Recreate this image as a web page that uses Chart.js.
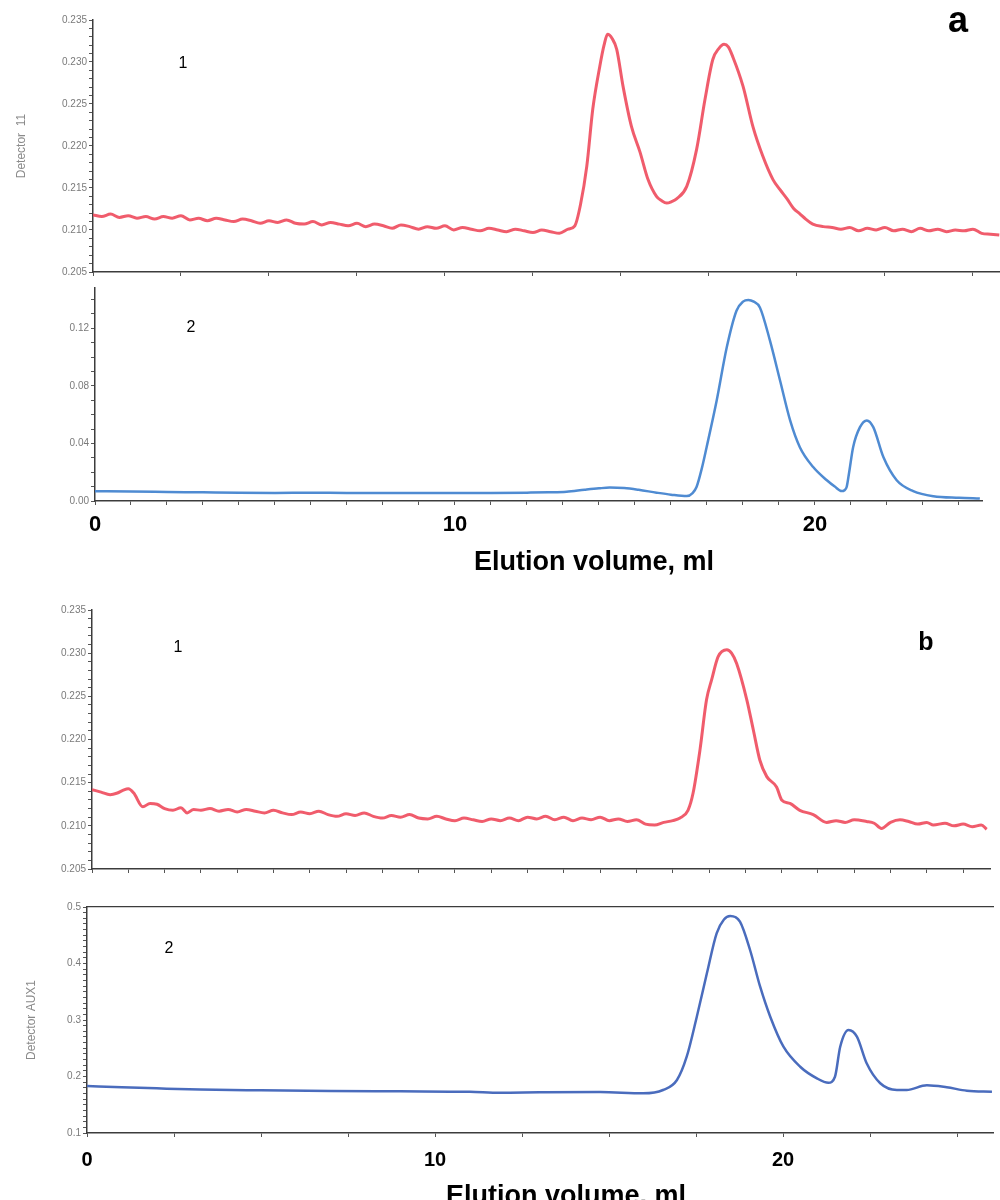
<!DOCTYPE html>
<html>
<head>
<meta charset="utf-8">
<script src="https://cdn.jsdelivr.net/npm/chart.js@4.4.1/dist/chart.umd.min.js"></script>
<style>
    html, body { margin: 0; padding: 0; background: #fff; overflow: hidden; }
    body { width: 1000px; height: 1200px; position: relative; }
    .panel { position: absolute; left: 0; width: 1000px; }
    .panel canvas { display: block; }
</style>
</head>
<body>
<div class="panel" id="panelA1" style="top:0;height:280px"><canvas id="chartA1"></canvas></div>
<div class="panel" id="panelA2" style="top:280px;height:300px"><canvas id="chartA2"></canvas></div>
<div class="panel" id="panelB1" style="top:580px;height:310px"><canvas id="chartB1"></canvas></div>
<div class="panel" id="panelB2" style="top:890px;height:325px"><canvas id="chartB2"></canvas></div>
<script>
// panel a, trace 1 (refractive index, red)
const volumeA1 = [0, 0.25, 0.5, 0.75, 1, 1.25, 1.5, 1.75, 2, 2.25, 2.5, 2.75, 3, 3.25, 3.5, 3.75, 4, 4.25, 4.5, 4.75,
    5, 5.25, 5.5, 5.75, 6, 6.25, 6.5, 6.75, 7, 7.25, 7.5, 7.75, 8, 8.25, 8.5, 8.75, 9, 9.25, 9.5, 9.75,
    10, 10.25, 10.5, 10.75, 11, 11.25, 11.5, 11.75, 12, 12.25, 12.5, 12.75, 13, 13.25, 13.5,
    13.69, 13.85, 14.03, 14.2, 14.4, 14.52, 14.62, 14.75, 14.88, 15.06, 15.3, 15.54, 15.77, 16.01, 16.15, 16.3,
    16.45, 16.58, 16.87, 17.15, 17.39, 17.61, 17.78, 17.93, 18.05, 18.18, 18.47, 18.75, 19.03, 19.32, 19.52,
    19.72, 19.9, 20.09, 20.25, 20.45, 20.75, 21, 21.25, 21.5, 21.75, 22, 22.25, 22.5, 22.75, 23, 23.25, 23.5,
    23.75, 24, 24.25, 24.5, 24.75, 25, 25.25, 25.5, 25.75];
const signalA1 = [0.2118, 0.2116, 0.2119, 0.2115, 0.2117, 0.2114, 0.2116, 0.2113, 0.2116, 0.2114, 0.2117, 0.2112, 0.2114, 0.2111, 0.2114, 0.2112, 0.2110, 0.2113, 0.2111, 0.2108,
    0.2111, 0.2109, 0.2112, 0.2108, 0.2107, 0.2110, 0.2106, 0.2109, 0.2107, 0.2105, 0.2108, 0.2104, 0.2107, 0.2105, 0.2102, 0.2106, 0.2104, 0.2101, 0.2104, 0.2102,
    0.2105, 0.2100, 0.2103, 0.2101, 0.2099, 0.2102, 0.2100, 0.2098, 0.2101, 0.2099, 0.2097, 0.2100, 0.2098, 0.2096, 0.2101,
    0.2105, 0.2130, 0.2176, 0.2244, 0.2295, 0.2320, 0.2333, 0.2328, 0.2315, 0.2271, 0.2223, 0.2193, 0.2160, 0.2140, 0.2135, 0.2132,
    0.2134, 0.2137, 0.2152, 0.2196, 0.2256, 0.2303, 0.2316, 0.2321, 0.2318, 0.2306, 0.2271, 0.2223, 0.2188, 0.2160, 0.2148,
    0.2137, 0.2126, 0.2119, 0.2113, 0.2107, 0.2104, 0.2103, 0.2101, 0.2103, 0.2099, 0.2102, 0.2100, 0.2103, 0.2099, 0.2101, 0.2098, 0.2102,
    0.2099, 0.2101, 0.2098, 0.2100, 0.2099, 0.2101, 0.2096, 0.2095, 0.2094];

// panel a, trace 2 (UV, blue)
const volumeA2 = [0, 1, 2, 3, 4, 5, 6, 7, 8, 9, 10, 11, 12, 12.6, 13.1, 13.6, 14, 14.3, 14.7, 15.1, 15.6, 16, 16.44,
    16.6, 16.71, 16.85, 16.99, 17.27, 17.55, 17.82, 18, 18.15, 18.3, 18.47, 18.75, 19.03, 19.31, 19.58, 19.95,
    20.33, 20.55, 20.74, 20.82, 20.88, 20.95, 21.06, 21.25, 21.44, 21.62, 21.9, 22.27, 22.73, 23.29, 24, 24.58];
const signalA2 = [0.0068, 0.0066, 0.0063, 0.0060, 0.0057, 0.0056, 0.0057, 0.0056, 0.0056, 0.0055, 0.0055, 0.0056, 0.0058, 0.0060, 0.0064, 0.0078, 0.0088, 0.0093, 0.0090, 0.0078, 0.0058, 0.0044, 0.0034,
    0.0055, 0.0097, 0.0220, 0.0374, 0.0698, 0.1068, 0.1322, 0.1385, 0.1397, 0.1385, 0.1345, 0.1114, 0.0837, 0.0560, 0.0374, 0.0236,
    0.0144, 0.0100, 0.0069, 0.0075, 0.0097, 0.0200, 0.0374, 0.0513, 0.0560, 0.0513, 0.0305, 0.0144, 0.0069, 0.0033, 0.0022, 0.0017];

// panel b, trace 1 (red)
const volumeB1 = [0, 0.25, 0.5, 0.7, 0.85, 1, 1.15, 1.4, 1.6, 1.79, 2, 2.23, 2.45, 2.62, 2.8, 3, 3.25, 3.5, 3.75, 4,
    4.25, 4.5, 4.75, 5, 5.25, 5.5, 5.75, 6, 6.25, 6.5, 6.75, 7, 7.25, 7.5, 7.75, 8, 8.25, 8.5, 8.75, 9,
    9.25, 9.5, 9.75, 10, 10.25, 10.5, 10.75, 11, 11.25, 11.5, 11.75, 12, 12.25, 12.5, 12.75, 13, 13.25, 13.5,
    13.75, 14, 14.25, 14.5, 14.75, 15, 15.25, 15.5, 15.75, 16, 16.2, 16.42, 16.56, 16.75, 16.93, 17.07, 17.25,
    17.49, 17.62, 17.76, 18.04, 18.22, 18.4, 18.59, 18.86, 19, 19.23, 19.5, 19.87, 20.24, 20.5, 20.75, 21,
    21.34, 21.55, 21.75, 22, 22.26, 22.5, 22.75, 23, 23.18, 23.5, 23.75, 24, 24.25, 24.5, 24.65];
const signalB1 = [0.2142, 0.2139, 0.2136, 0.2138, 0.2141, 0.2143, 0.2138, 0.2122, 0.2126, 0.2125, 0.2120, 0.2118, 0.2121, 0.2115, 0.2119, 0.2118, 0.2120, 0.2117, 0.2119, 0.2116,
    0.2119, 0.2117, 0.2115, 0.2118, 0.2115, 0.2113, 0.2116, 0.2114, 0.2117, 0.2113, 0.2111, 0.2114, 0.2112, 0.2115, 0.2111, 0.2109, 0.2112, 0.2110, 0.2113, 0.2109,
    0.2108, 0.2111, 0.2108, 0.2106, 0.2109, 0.2107, 0.2105, 0.2108, 0.2106, 0.2109, 0.2106, 0.2110, 0.2108, 0.2111, 0.2107, 0.2110, 0.2106, 0.2109,
    0.2107, 0.2110, 0.2106, 0.2108, 0.2105, 0.2107, 0.2102, 0.2101, 0.2104, 0.2106, 0.2109, 0.2118, 0.2138, 0.2188, 0.2246, 0.2269, 0.2296,
    0.2304, 0.2300, 0.2288, 0.2246, 0.2211, 0.2176, 0.2157, 0.2145, 0.2130, 0.2126, 0.2118, 0.2113, 0.2104, 0.2106, 0.2104, 0.2107,
    0.2105, 0.2103, 0.2097, 0.2104, 0.2107, 0.2105, 0.2102, 0.2104, 0.2101, 0.2103, 0.2100, 0.2102, 0.2099, 0.2101, 0.2096];

// panel b, trace 2 (blue)
const volumeB2 = [0, 1, 2, 3.25, 5, 7, 9, 11, 11.87, 13, 14.74, 15.98, 16.55, 16.95, 17.23, 17.52, 17.81, 18.09, 18.3,
    18.48, 18.76, 19.05, 19.34, 19.63, 20.01, 20.49, 20.97, 21.3, 21.49, 21.64, 21.88, 22.12, 22.4, 22.79,
    23.27, 23.55, 24.13, 24.7, 25.28, 26];
const signalB2 = [0.1832, 0.1810, 0.1790, 0.1768, 0.1755, 0.1745, 0.1738, 0.1730, 0.1713, 0.1720, 0.1726, 0.1703, 0.1761, 0.1938, 0.2350, 0.3058, 0.3827, 0.4535, 0.4780,
    0.4841, 0.4740, 0.4239, 0.3589, 0.3058, 0.2527, 0.2173, 0.1968, 0.1890, 0.1996, 0.2527, 0.2823, 0.2705, 0.2233, 0.1880,
    0.1761, 0.1761, 0.1844, 0.1809, 0.1749, 0.1731];

const xLabelsShown = [0, 10, 20];

(function () {
    const palette = {
        red: 'rgba(238, 74, 92, 0.9)',
        blueA: '#4f8bd2',
        blueB: '#4a6cbd',
        axis: '#3c3c3c',
        tick: '#7a7a7a',
    };
    const sans = "'Liberation Sans', Arial, sans-serif";
    const axisTitle = 'Elution volume, ml';

    // free text in the panels: curve numbers, panel letters, x axis title
    const panelText = {
        id: 'panelText',
        afterDraw(chart, args, opts) {
            const ctx = chart.ctx;
            (opts.items || []).forEach(function (item) {
                ctx.save();
                ctx.font = item.font;
                ctx.fillStyle = '#000';
                ctx.textAlign = 'center';
                ctx.textBaseline = 'alphabetic';
                ctx.fillText(item.text, item.x, item.y);
                ctx.restore();
            });
        },
    };

    function toPoints(xs, ys) {
        return xs.map(function (x, i) { return { x: x, y: ys[i] }; });
    }

    function yAxis(o) {
        return {
            type: 'linear',
            position: 'left',
            min: o.min,
            max: o.max,
            afterFit: function (scale) { scale.width = o.width; },
            border: { color: palette.axis, width: 1.5 },
            grid: { drawOnChartArea: false, tickLength: 4, tickColor: '#555' },
            ticks: {
                stepSize: o.step,
                autoSkip: false,
                includeBounds: false,
                padding: 2,
                color: palette.tick,
                font: { family: sans, size: 10 },
                callback: o.label,
            },
            title: o.title ? {
                display: true,
                text: o.title,
                color: '#8a8a8a',
                font: { family: sans, size: 12 },
                padding: { top: o.titlePad, bottom: 0 },
            } : { display: false },
        };
    }

    function xAxis(o) {
        return {
            type: 'linear',
            position: 'bottom',
            min: 0,
            max: o.max,
            afterFit: function (scale) { scale.height = o.height; },
            border: { color: palette.axis, width: 1.5 },
            grid: { drawOnChartArea: false, tickLength: 4, tickColor: '#555' },
            ticks: {
                stepSize: o.step,
                autoSkip: false,
                includeBounds: false,
                maxRotation: 0,
                padding: o.labelPad || 0,
                color: '#000',
                font: { family: sans, size: o.labelSize || 10, weight: 'bold' },
                callback: function (v) {
                    return o.labels && xLabelsShown.indexOf(v) !== -1 ? String(v) : '';
                },
            },
        };
    }

    function buildPanel(id, o) {
        const scales = { x: xAxis(o.x), y: yAxis(o.y) };
        if (o.frameTop) {
            scales.xTop = {
                type: 'linear',
                position: 'top',
                min: 0,
                max: 1,
                afterFit: function (scale) { scale.height = 0; },
                border: { color: palette.axis, width: 1.2 },
                grid: { display: false, drawTicks: false },
                ticks: { display: false },
            };
        }
        return new Chart(document.getElementById(id), {
            type: 'line',
            data: {
                datasets: [{
                    data: toPoints(o.xs, o.ys),
                    borderColor: o.color,
                    borderWidth: o.lineWidth,
                    pointRadius: 0,
                    cubicInterpolationMode: 'monotone',
                    fill: false,
                }],
            },
            options: {
                responsive: true,
                maintainAspectRatio: false,
                animation: false,
                layout: { padding: o.padding },
                plugins: {
                    legend: { display: false },
                    tooltip: { enabled: false },
                    panelText: { items: o.texts },
                },
                scales: scales,
            },
            plugins: [panelText],
        });
    }

    buildPanel('chartA1', {
        xs: volumeA1, ys: signalA1, color: palette.red, lineWidth: 3,
        padding: { top: 20, right: 0, left: 0, bottom: 0 },
        x: { max: 25.77, step: 2.5, height: 7 },
        y: {
            min: 0.205, max: 0.235, step: 0.001, width: 93, title: 'Detector  11', titlePad: 14,
            label: function (v) { return Math.round(v * 1000) % 5 === 0 ? v.toFixed(3) : ''; },
        },
        texts: [
            { text: '1', x: 183, y: 68, font: '16px ' + sans },
            { text: 'a', x: 958, y: 32, font: 'bold 36px ' + sans },
        ],
    });

    buildPanel('chartA2', {
        xs: volumeA2, ys: signalA2, color: palette.blueA, lineWidth: 2.5,
        padding: { top: 7, right: 18, left: 0, bottom: 0 },
        x: { max: 24.64, step: 1, height: 79, labels: true, labelSize: 22, labelPad: 7 },
        y: {
            min: 0, max: 0.148, step: 0.01, width: 95,
            label: function (v) { return Math.round(v * 100) % 4 === 0 ? v.toFixed(2) : ''; },
        },
        texts: [
            { text: '2', x: 191, y: 52, font: '16px ' + sans },
            { text: axisTitle, x: 594, y: 290, font: 'bold 27px ' + sans },
        ],
    });

    buildPanel('chartB1', {
        xs: volumeB1, ys: signalB1, color: palette.red, lineWidth: 3,
        padding: { top: 30, right: 10, left: 0, bottom: 0 },
        x: { max: 24.74, step: 1, height: 21 },
        y: {
            min: 0.205, max: 0.235, step: 0.001, width: 92,
            label: function (v) { return Math.round(v * 1000) % 5 === 0 ? v.toFixed(3) : ''; },
        },
        texts: [
            { text: '1', x: 178, y: 72, font: '16px ' + sans },
            { text: 'b', x: 926, y: 70, font: 'bold 25px ' + sans },
        ],
    });

    buildPanel('chartB2', {
        xs: volumeB2, ys: signalB2, color: palette.blueB, lineWidth: 2.5, frameTop: true,
        padding: { top: 17, right: 7, left: 0, bottom: 0 },
        x: { max: 26.03, step: 2.5, height: 82, labels: true, labelSize: 20, labelPad: 11 },
        y: {
            min: 0.1, max: 0.5, step: 0.01, width: 87, title: 'Detector AUX1', titlePad: 24,
            label: function (v) { return Math.round(v * 100) % 10 === 0 ? v.toFixed(1) : ''; },
        },
        texts: [
            { text: '2', x: 169, y: 63, font: '16px ' + sans },
            { text: axisTitle, x: 566, y: 314, font: 'bold 27px ' + sans },
        ],
    });
})();
</script>
</body>
</html>
